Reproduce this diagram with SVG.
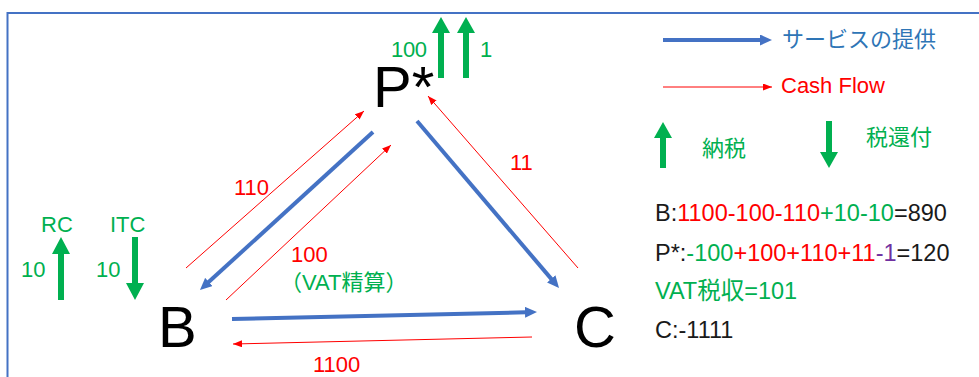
<svg xmlns="http://www.w3.org/2000/svg" width="979" height="377" viewBox="0 0 979 377">
<style>
text{font-family:"Liberation Sans","Noto Sans CJK JP",sans-serif;font-size:22px}
.node{font-size:58px;fill:#000}
.f{font-size:23.5px}
.r{fill:#FF0000}.g{fill:#00B050}.k{fill:#1a1a1a}.p{fill:#7030A0}.b{fill:#2E75B6}
.blue{stroke:#4472C4;stroke-width:4;fill:none;marker-end:url(#bh)}
.red{stroke:#FF0000;stroke-width:1;fill:none;marker-end:url(#rh)}
.garr{fill:#00B050}
</style>
<defs>
<marker id="bh" markerUnits="userSpaceOnUse" markerWidth="12" markerHeight="11" refX="1" refY="5.5" orient="auto"><path d="M0,0 L12,5.5 L0,11 Z" fill="#4472C4"/></marker>
<marker id="rh" markerUnits="userSpaceOnUse" markerWidth="9" markerHeight="7" refX="9" refY="3.5" orient="auto"><path d="M0,0 L9,3.5 L0,7 Z" fill="#FF0000"/></marker>
</defs>
<rect width="979" height="377" fill="#fff"/>
<path d="M7.5,377 V13 H979" fill="none" stroke="#4472C4" stroke-width="2"/>

<g id="connectors">
<path class="blue" d="M373,132 L208.1,282.6"/>
<path class="blue" d="M417,121 L551.9,279.6"/>
<path class="blue" d="M232,319 L526,312.3"/>
<path class="red" d="M186,268 L364,111"/>
<path class="red" d="M226,300 L391,145"/>
<path class="red" d="M578,268 L428,96"/>
<path class="red" d="M532,337 L233,344"/>
<text x="234" y="195" class="r">110</text>
<text x="291" y="262" class="r">100</text>
<text x="280" y="290" class="g">（VAT精算）</text>
<text x="510" y="170" class="r">11</text>
<text x="313" y="372" class="r">1100</text>
</g>

<g id="node-P">
<text x="373" y="107" class="node">P*</text>
<path class="garr" d="M441,17 L450,33 L444,33 L444,78 L438,78 L438,33 L432,33 Z"/>
<path class="garr" d="M466,17 L475,33 L469,33 L469,78 L463,78 L463,33 L457,33 Z"/>
<text x="391" y="57" class="g" textLength="36">100</text>
<text x="480" y="57" class="g">1</text>
</g>

<g id="node-B">
<text x="158" y="347" class="node">B</text>
<path class="garr" d="M61,237 L70,254 L64,254 L64,300 L58,300 L58,254 L52,254 Z"/>
<path class="garr" d="M135,300 L144,283 L138,283 L138,237 L132,237 L132,283 L126,283 Z"/>
<text x="41" y="232" class="g">RC</text>
<text x="110" y="232" class="g">ITC</text>
<text x="21" y="277" class="g">10</text>
<text x="96" y="277" class="g">10</text>
</g>

<g id="node-C">
<text x="574" y="347" class="node">C</text>
</g>

<g id="legend">
<path class="blue" d="M663,40 L761,40"/>
<text x="782" y="47" class="b">サービスの提供</text>
<path class="red" d="M663,87 L772,87"/>
<text x="781" y="93" class="r">Cash Flow</text>
<path class="garr" d="M663,122 L672,138 L666,138 L666,168 L660,168 L660,138 L654,138 Z"/>
<text x="702" y="156" class="g">納税</text>
<path class="garr" d="M829,168 L838,152 L832,152 L832,121 L826,121 L826,152 L820,152 Z"/>
<text x="866" y="145" class="g">税還付</text>
</g>

<g id="formulas">
<text x="655" y="221" class="f"><tspan class="k">B:</tspan><tspan class="r">1100-100-110</tspan><tspan class="g">+10-10</tspan><tspan class="k">=890</tspan></text>
<text x="655" y="261" class="f"><tspan class="k">P*:</tspan><tspan class="g">-100</tspan><tspan class="r">+100+110+11</tspan><tspan class="p">-1</tspan><tspan class="k">=120</tspan></text>
<text x="655" y="299" class="f g">VAT税収=101</text>
<text x="655" y="338" class="f k">C:-1111</text>
</g>
</svg>
